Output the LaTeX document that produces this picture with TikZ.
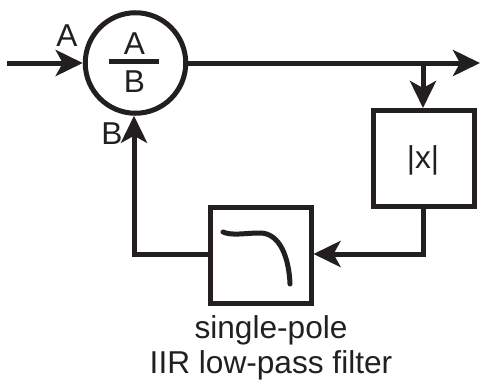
\documentclass[tikz,border=0pt]{standalone}
\usepackage{fontspec}
\setmainfont{Liberation Sans}
\usetikzlibrary{arrows.meta}
\definecolor{inkblack}{HTML}{231F20}
\begin{document}
\begin{tikzpicture}[x=0.2mm, y=-0.2mm, >={Stealth[length=5.4mm, width=5.2mm, inset=1.4mm]},
    line width=1mm, draw=inkblack, text=inkblack,
    blockbox/.style={rectangle, draw, inner sep=0pt, minimum width=20.2mm, minimum height=19.2mm},
    divnode/.style={circle, draw, inner sep=0pt, minimum size=20.1mm},
    tag/.style={inner sep=0pt, font=\fontsize{18}{20}\selectfont}]
  \useasboundingbox (0,0) rectangle (480,383);
  % Divider and the two blocks
  \node[divnode] (div) at (135.5,63) {};
  \node[blockbox] (abs) at (424,158.5) {};
  \node[blockbox] (lpf) at (260.5,255.5) {};
  \coordinate (in) at (7,63);
  \coordinate (out) at (480,63);
  \coordinate (tap) at (423,63);
  \coordinate (turn) at (134,254);
  % Signal paths
  \draw[->] (in) -- (div);
  \draw[->] (div) -- (out);
  \draw[->] (tap) -- (tap |- abs.north);
  \draw[->] (tap |- abs.south) |- (lpf.east |- turn);
  \draw[->] (lpf.west |- turn) -- (turn) -- (turn |- div.south);
  % Fraction bar and response curve
  \draw (109,61) -- (159,61);
  \draw[line cap=round] (223,232) .. controls (232,236) and (245,233) .. (260,233)
    .. controls (280,233) and (289,258) .. (290,284);
  % Labels
  \node[tag] (numA) at (134.5,44) {A};
  \node[tag] (denB) at (134.5,82) {B};
  \node[tag] (inA) at (67,36) {A};
  \node[tag] (inB) at (112,134) {B};
  \node[tag] (absx) at (423,160) {|x|};
  \node[tag, align=center] (lpfname) at (271,348) {single-pole\\IIR low-pass filter};
\end{tikzpicture}
\end{document}
